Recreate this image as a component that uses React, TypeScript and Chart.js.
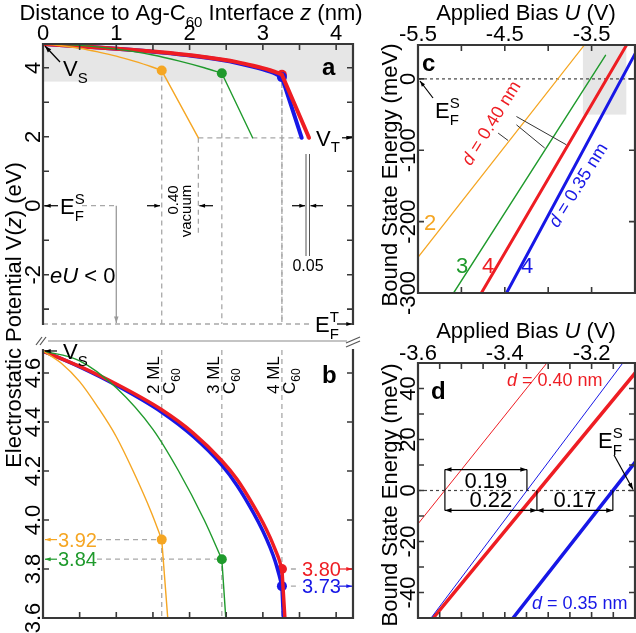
import { useEffect, useRef } from 'react';
import { Chart, registerables } from 'chart.js';

Chart.register(...registerables);

const W = 636;
const H = 633;
const FF = '"Liberation Sans", Arial, Helvetica, sans-serif';
const AXIS = '#383838';
const DASH = '#a8a8a8';
const BAND = '#e6e6e6';
const ORANGE = '#F5A623';
const GREEN = '#1F9A2C';
const RED = '#EE1D23';
const BLUE = '#1717E6';

// ---------- Panels a & b: electrostatic potential V(z) ----------
const z2ML = [0, 0.25, 0.5, 0.75, 1.0, 1.23, 1.48, 1.62];
const v2ML = [4.69, 4.64, 4.565, 4.46, 4.34, 4.2, 4.03, 3.92];
const z2Vac = [1.62, 2.12];
const v2Vac = [3.92, 1.97];
const z3ML = [0, 0.5, 1.0, 1.5, 1.85, 2.2, 2.44];
const v3ML = [4.69, 4.65, 4.54, 4.37, 4.2, 4.0, 3.84];
const z3Vac = [2.44, 2.86];
const v3Vac = [3.84, 1.97];
const z4ML = [0, 0.5, 1.0, 1.62, 2.05, 2.44, 2.65, 2.87, 3.0, 3.1, 3.17, 3.22, 3.26];
const v4ML040 = [4.69, 4.627, 4.555, 4.45, 4.355, 4.242, 4.165, 4.06, 3.99, 3.928, 3.878, 3.84, 3.8];
const v4ML035 = [4.69, 4.625, 4.55, 4.44, 4.341, 4.224, 4.14, 4.03, 3.955, 3.887, 3.83, 3.777, 3.73];
const z4Vac040 = [3.26, 3.63];
const v4Vac040 = [3.8, 1.97];
const z4Vac035 = [3.26, 3.53];
const v4Vac035 = [3.73, 1.97];
const dotZ = [1.62, 2.44, 3.26, 3.26];
const dotV = [3.92, 3.84, 3.8, 3.73];
const dotLabels = ['3.92', '3.84', '3.80', '3.73'];
const mlZ = [1.62, 2.44, 3.26];
const mlLabels = ['2 ML', '3 ML', '4 ML'];
const V_S = 4.69;
const V_T = 1.97;
const E_FT = -3.43;

const aXTicks = [0, 0.5, 1, 1.5, 2, 2.5, 3, 3.5, 4];
const aXLabels = [0, 1, 2, 3, 4];
const aYTicks = [-3, -2, -1, 0, 1, 2, 3, 4];
const aYLabels = [-2, 0, 2, 4];
const bYTicks = [3.6, 3.8, 4.0, 4.2, 4.4, 4.6];

// ---------- Panel c: bound state energy vs bias ----------
const cU2 = [-5.5, -3.567];
const cE2 = [-250, 50];
const cU3 = [-5.09, -3.34];
const cE3 = [-300, 33];
const cU4a = [-4.77, -3.085];
const cE4a = [-300, 50];
const cU4b = [-4.48, -3.0];
const cE4b = [-300, 35];
const cXTicks = [-5.5, -5.0, -4.5, -4.0, -3.5, -3.0];
const cXLabels = [-5.5, -4.5, -3.5];
const cYTicks = [-300, -200, -100, 0];

// ---------- Panel d: zoom near E_F ----------
const dUthinRed = [-3.6, -3.303];
const dEthinRed = [-13.1, 50];
const dUthinBlue = [-3.57, -3.128];
const dEthinBlue = [-50, 50];
const dUred = [-3.565, -3.1];
const dEred = [-50, 46];
const dUblue = [-3.381, -3.1];
const dEblue = [-50, 11];
const dCross = [-3.538, -3.349, -3.326, -3.151];
const dGaps = ['0.19', '0.22', '0.17'];
const dXTicks = [-3.6, -3.55, -3.5, -3.45, -3.4, -3.35, -3.3, -3.25, -3.2, -3.15, -3.1];
const dXLabels = [-3.6, -3.4, -3.2];
const dYTicks = [-40, -30, -20, -10, 0, 10, 20, 30, 40];
const dYLabels = [-40, -20, 0, 20, 40];

type Seg = { t: string; it?: boolean; b?: boolean; sub?: boolean; sup?: boolean; ss?: [string, string] };
type Align = 'left' | 'center' | 'right';
type Ctx = CanvasRenderingContext2D;
type F = (v: number) => number;

function fnt(size: number, it = false, b = false) {
  return `${it ? 'italic ' : ''}${b ? 'bold ' : ''}${size}px ${FF}`;
}

function rich(ctx: Ctx, segs: Seg[], x: number, y: number, size: number, color = '#000', align: Align = 'left', rot = 0) {
  const sm = Math.round(size * 0.7);
  ctx.save();
  ctx.translate(x, y);
  if (rot) ctx.rotate(rot);
  ctx.fillStyle = color;
  ctx.textAlign = 'left';
  ctx.textBaseline = 'alphabetic';
  const ws = segs.map((s) => {
    if (s.ss) {
      ctx.font = fnt(sm);
      return Math.max(ctx.measureText(s.ss[0]).width, ctx.measureText(s.ss[1]).width);
    }
    ctx.font = fnt(s.sub || s.sup ? sm : size, s.it, s.b);
    return ctx.measureText(s.t).width;
  });
  const tot = ws.reduce((a, b) => a + b, 0);
  let cx = align === 'left' ? 0 : align === 'center' ? -tot / 2 : -tot;
  segs.forEach((s, i) => {
    if (s.ss) {
      ctx.font = fnt(sm);
      ctx.fillText(s.ss[0], cx, -size * 0.45);
      ctx.fillText(s.ss[1], cx, size * 0.32);
    } else {
      ctx.font = fnt(s.sub || s.sup ? sm : size, s.it, s.b);
      ctx.fillText(s.t, cx, s.sub ? size * 0.3 : s.sup ? -size * 0.45 : 0);
    }
    cx += ws[i];
  });
  ctx.restore();
}

function txt(ctx: Ctx, s: string, x: number, y: number, size: number, color = '#000', align: Align = 'center', rot = 0, bold = false) {
  rich(ctx, [{ t: s, b: bold }], x, y, size, color, align, rot);
}

function path(ctx: Ctx, pts: number[][], color: string, lw = 1, dash: number[] = []) {
  ctx.save();
  ctx.strokeStyle = color;
  ctx.lineWidth = lw;
  ctx.setLineDash(dash);
  ctx.beginPath();
  pts.forEach((p, i) => (i ? ctx.lineTo(p[0], p[1]) : ctx.moveTo(p[0], p[1])));
  ctx.stroke();
  ctx.restore();
}

function dashed(ctx: Ctx, pts: number[][]) {
  path(ctx, pts, DASH, 1.3, [5, 4]);
}

function arrow(ctx: Ctx, x1: number, y1: number, x2: number, y2: number, color = '#000', lw = 1.2, head = 7, both = false) {
  ctx.save();
  ctx.strokeStyle = color;
  ctx.fillStyle = color;
  ctx.lineWidth = lw;
  ctx.setLineDash([]);
  ctx.beginPath();
  ctx.moveTo(x1, y1);
  ctx.lineTo(x2, y2);
  ctx.stroke();
  const hd = (xa: number, ya: number, xb: number, yb: number) => {
    const a = Math.atan2(yb - ya, xb - xa);
    ctx.beginPath();
    ctx.moveTo(xb, yb);
    ctx.lineTo(xb - head * Math.cos(a - 0.33), yb - head * Math.sin(a - 0.33));
    ctx.lineTo(xb - head * Math.cos(a + 0.33), yb - head * Math.sin(a + 0.33));
    ctx.closePath();
    ctx.fill();
  };
  hd(x1, y1, x2, y2);
  if (both) hd(x2, y2, x1, y1);
  ctx.restore();
}

function axes(ctx: Ctx, ca: any, X: F, Y: F, sides: string, xt: number[], yt: number[]) {
  const { left, right, top, bottom } = ca;
  ctx.save();
  ctx.strokeStyle = AXIS;
  ctx.setLineDash([]);
  ctx.lineWidth = 2.2;
  ctx.lineCap = 'square';
  ctx.beginPath();
  if (sides.includes('t')) { ctx.moveTo(left, top); ctx.lineTo(right, top); }
  if (sides.includes('b')) { ctx.moveTo(left, bottom); ctx.lineTo(right, bottom); }
  if (sides.includes('l')) { ctx.moveTo(left, top); ctx.lineTo(left, bottom); }
  if (sides.includes('r')) { ctx.moveTo(right, top); ctx.lineTo(right, bottom); }
  ctx.stroke();
  ctx.lineCap = 'butt';
  ctx.lineWidth = 1.6;
  const L = 6;
  ctx.beginPath();
  xt.forEach((v) => {
    const x = X(v);
    if (sides.includes('t')) { ctx.moveTo(x, top); ctx.lineTo(x, top + L); }
    if (sides.includes('b')) { ctx.moveTo(x, bottom); ctx.lineTo(x, bottom - L); }
  });
  yt.forEach((v) => {
    const y = Y(v);
    if (sides.includes('l')) { ctx.moveTo(left, y); ctx.lineTo(left + L, y); }
    if (sides.includes('r')) { ctx.moveTo(right, y); ctx.lineTo(right - L, y); }
  });
  ctx.stroke();
  ctx.restore();
}

const xy = (xs: number[], ys: number[]) => xs.map((x, i) => ({ x, y: ys[i] }));

function ds(xs: number[], ys: number[], color: string, width: number, smooth = false) {
  return {
    data: xy(xs, ys),
    borderColor: color,
    backgroundColor: color,
    borderWidth: width,
    pointRadius: 0,
    fill: false,
    clip: 0,
    tension: 0,
    cubicInterpolationMode: smooth ? 'monotone' : 'default',
    borderCapStyle: 'round',
    borderJoinStyle: 'round',
  };
}

const DOT_COLORS = [ORANGE, GREEN, RED, BLUE];
const dots = (r: number) => ({
  data: xy(dotZ, dotV),
  showLine: false,
  pointRadius: r,
  pointBackgroundColor: DOT_COLORS,
  pointBorderColor: DOT_COLORS,
  pointBorderWidth: 0,
  clip: false,
});

const profiles = (thin: number, thick: number) => [
  ds(z2ML, v2ML, ORANGE, thin, true),
  ds(z2Vac, v2Vac, ORANGE, thin),
  ds(z3ML, v3ML, GREEN, thin, true),
  ds(z3Vac, v3Vac, GREEN, thin),
  ds(z4ML, v4ML040, RED, thick, true),
  ds(z4Vac040, v4Vac040, RED, thick),
  ds(z4ML, v4ML035, BLUE, thick, true),
  ds(z4Vac035, v4Vac035, BLUE, thick),
];

const ROT = -Math.PI / 2;
const EF = (sup: string): Seg[] => [{ t: 'E' }, { t: '', ss: [sup, 'F'] }];

type Spec = {
  rect: [number, number, number, number];
  xr: [number, number];
  yr: [number, number];
  datasets: any[];
  under?: (ctx: Ctx, X: F, Y: F, ca: any) => void;
  over?: (ctx: Ctx, X: F, Y: F, ca: any) => void;
};

const panelA: Spec = {
  rect: [43, 44, 353, 324],
  xr: [0, 4.23],
  yr: [E_FT, V_S],
  datasets: [...profiles(1.4, 4), dots(5)],
  under: (ctx, X, Y, ca) => {
    ctx.fillStyle = BAND;
    ctx.fillRect(ca.left, Y(V_S), ca.right - ca.left, Y(3.6) - Y(V_S));
    dotZ.forEach((z, i) => dashed(ctx, [[X(z), Y(dotV[i]) + 6], [X(z), Y(E_FT)]]));
    dashed(ctx, [[X(z2Vac[1]), Y(V_T)], [X(3.6), Y(V_T)]]);
    dashed(ctx, [[X(z2Vac[1]), Y(V_T)], [X(z2Vac[1]), Y(-0.8)]]);
    dashed(ctx, [[82, Y(0)], [X(1.0), Y(0)]]);
    dashed(ctx, [[ca.left, Y(E_FT)], [313, Y(E_FT)]]);
  },
  over: (ctx, X, Y, ca) => {
    axes(ctx, ca, X, Y, 'tlr', aXTicks, aYTicks);
    aXLabels.forEach((v) => txt(ctx, String(v), X(v), 40, 22));
    aYLabels.forEach((v) => txt(ctx, String(v), 40, Y(v), 22, '#000', 'center', ROT));
    rich(ctx, [{ t: 'Distance to Ag-C' }, { t: '60', sub: true }, { t: ' Interface ' }, { t: 'z', it: true }, { t: ' (nm)' }], 191, 20, 22, '#000', 'center');
    rich(ctx, [{ t: 'Electrostatic Potential V(' }, { t: 'z', it: true }, { t: ') (eV)' }], 21, 315, 22, '#000', 'center', ROT);
    // V_S
    arrow(ctx, 60, 62, 45, 46);
    rich(ctx, [{ t: 'V' }, { t: 'S', sub: true }], 63, 76, 22);
    txt(ctx, 'a', 322, 75, 24, '#000', 'left', 0, true);
    // V_T
    rich(ctx, [{ t: 'V' }, { t: 'T', sub: true }], 316, Y(V_T) + 8, 22);
    arrow(ctx, 342, Y(V_T), 352, Y(V_T), '#000', 1.2, 6);
    // E_F^S and bias arrow
    arrow(ctx, 58, Y(0), 45, Y(0), '#000', 1.2, 6);
    rich(ctx, EF('S'), 60, Y(0) + 8, 22);
    arrow(ctx, X(1.0), Y(0), X(1.0), Y(E_FT) - 1, '#9a9a9a', 1.3, 7);
    rich(ctx, [{ t: 'eU', it: true }, { t: ' < 0' }], 50, Y(-2) + 8, 22);
    // vacuum width
    arrow(ctx, 147, Y(0), 160, Y(0), '#000', 1.2, 6);
    arrow(ctx, 213, Y(0), X(z2Vac[1]) + 1, Y(0), '#000', 1.2, 6);
    txt(ctx, '0.40', 178, 200, 15, '#000', 'center', ROT);
    txt(ctx, 'vacuum', 191, 211, 15, '#000', 'center', ROT);
    // 0.05 marker
    path(ctx, [[306, 154], [306, 256]], '#555', 1);
    path(ctx, [[309.5, 154], [309.5, 256]], '#555', 1);
    arrow(ctx, 292, Y(0), 305, Y(0), '#000', 1.2, 6);
    arrow(ctx, 323, Y(0), 310.5, Y(0), '#000', 1.2, 6);
    txt(ctx, '0.05', 308, 271, 16);
    // E_F^T
    rich(ctx, EF('T'), 315, Y(E_FT) + 8, 22);
    arrow(ctx, 337, Y(E_FT), 352, Y(E_FT), '#000', 1.2, 6);
  },
};

const panelB: Spec = {
  rect: [43, 350, 353, 618],
  xr: [0, 4.23],
  yr: [3.6, 4.694],
  datasets: [...profiles(1.4, 3.5), dots(5)],
  under: (ctx, X, Y, ca) => {
    mlZ.forEach((z) => dashed(ctx, [[X(z), ca.top], [X(z), ca.bottom]]));
    dashed(ctx, [[97, Y(dotV[0])], [X(dotZ[0]), Y(dotV[0])]]);
    dashed(ctx, [[97, Y(dotV[1])], [X(dotZ[1]), Y(dotV[1])]]);
    dashed(ctx, [[X(dotZ[2]), Y(dotV[2])], [300, Y(dotV[2])]]);
    dashed(ctx, [[X(dotZ[3]), Y(dotV[3])], [300, Y(dotV[3])]]);
  },
  over: (ctx, X, Y, ca) => {
    axes(ctx, ca, X, Y, 'blr', aXTicks, bYTicks);
    bYTicks.forEach((v) => txt(ctx, v.toFixed(1), 40, Y(v), 22, '#000', 'center', ROT));
    // broken-axis top
    path(ctx, [[48, 341], [347, 341]], '#8a8a8a', 1.2);
    path(ctx, [[36, 345], [42, 337]], '#555', 1.2);
    path(ctx, [[40, 345], [46, 337]], '#555', 1.2);
    path(ctx, [[346, 343], [360, 337]], '#555', 1.2);
    path(ctx, [[346, 347], [360, 341]], '#555', 1.2);
    // V_S
    arrow(ctx, 57, Y(V_S), 45, Y(V_S), '#000', 1.2, 6);
    rich(ctx, [{ t: 'V' }, { t: 'S', sub: true }], 63, Y(V_S) + 8, 22);
    txt(ctx, 'b', 322, 383, 24, '#000', 'left', 0, true);
    // ML labels
    mlZ.forEach((z, i) => {
      rich(ctx, [{ t: mlLabels[i] }], X(z) - 3, 394, 17, '#000', 'left', ROT);
      rich(ctx, [{ t: 'C' }, { t: '60', sub: true }], X(z) + 13, 394, 17, '#000', 'left', ROT);
    });
    // values
    [0, 1].forEach((i) => {
      const y = Y(dotV[i]);
      arrow(ctx, 57, y, 45, y, DOT_COLORS[i], 1.2, 6);
      txt(ctx, dotLabels[i], 58, y + 7, 20, DOT_COLORS[i], 'left');
    });
    [2, 3].forEach((i) => {
      const y = Y(dotV[i]);
      txt(ctx, dotLabels[i], 302, y + 7, 20, DOT_COLORS[i], 'left');
      arrow(ctx, 339, y, 352, y, DOT_COLORS[i], 1.2, 6);
    });
  },
};

const panelC: Spec = {
  rect: [418, 45, 635, 293],
  xr: [-5.5, -3.0],
  yr: [-300, 47.5],
  datasets: [
    ds(cU2, cE2, ORANGE, 1.2),
    ds(cU3, cE3, GREEN, 1.4),
    ds(cU4a, cE4a, RED, 3),
    ds(cU4b, cE4b, BLUE, 3),
  ],
  under: (ctx, X, Y, ca) => {
    ctx.fillStyle = BAND;
    const x0 = X(-3.6);
    const x1 = Math.min(X(-3.1), ca.right);
    const y0 = Math.max(Y(50), ca.top);
    ctx.fillRect(x0, y0, x1 - x0, Y(-50) - y0);
    path(ctx, [[ca.left, Y(0)], [ca.right, Y(0)]], '#444', 1.2, [3, 3]);
  },
  over: (ctx, X, Y, ca) => {
    axes(ctx, ca, X, Y, 'tblr', cXTicks, cYTicks);
    cXLabels.forEach((v) => txt(ctx, v.toFixed(1), X(v), 41, 22));
    cYTicks.forEach((v) => txt(ctx, String(v), 415, Y(v), 22, '#000', 'center', ROT));
    rich(ctx, [{ t: 'Applied Bias ' }, { t: 'U', it: true }, { t: ' (V)' }], 526, 20, 22, '#000', 'center');
    rich(ctx, [{ t: 'Bound State Energy (meV)' }], 397, 175, 22, '#000', 'center', ROT);
    txt(ctx, 'c', 422, 71, 24, '#000', 'left', 0, true);
    arrow(ctx, 433, 98, 420, 81, '#000', 1.2, 6);
    rich(ctx, EF('S'), 435, 118, 22);
    // d labels
    const a = (-58 * Math.PI) / 180;
    rich(ctx, [{ t: 'd', it: true }, { t: ' = 0.40 nm' }], 496, 126, 18, RED, 'center', a);
    rich(ctx, [{ t: 'd', it: true }, { t: ' = 0.35 nm' }], 583, 188, 18, BLUE, 'center', a);
    path(ctx, [[X(-4.366), Y(-52.7)], [X(-3.791), Y(-92.3)]], '#333', 1);
    path(ctx, [[X(-4.366), Y(-64.3)], [X(-4.04), Y(-96.9)]], '#333', 1);
    path(ctx, [[X(-4.577), Y(-75.9)], [X(-4.462), Y(-86.3)]], '#333', 1);
    txt(ctx, '2', 430, 230, 22, ORANGE);
    txt(ctx, '3', 462, 273, 22, GREEN);
    txt(ctx, '4', 488, 273, 22, RED);
    txt(ctx, '4', 527, 273, 22, BLUE);
  },
};

const panelD: Spec = {
  rect: [418, 363, 635, 618],
  xr: [-3.6, -3.1],
  yr: [-50, 50],
  datasets: [
    ds(dUthinRed, dEthinRed, RED, 1),
    ds(dUthinBlue, dEthinBlue, BLUE, 1),
    ds(dUred, dEred, RED, 3.5),
    ds(dUblue, dEblue, BLUE, 3.5),
  ],
  under: (ctx, X, Y, ca) => {
    path(ctx, [[ca.left, Y(0)], [ca.right, Y(0)]], '#444', 1.2, [3, 3]);
  },
  over: (ctx, X, Y, ca) => {
    axes(ctx, ca, X, Y, 'tblr', dXTicks, dYTicks);
    dXLabels.forEach((v) => txt(ctx, v.toFixed(1), X(v), 360, 22));
    dYLabels.forEach((v) => txt(ctx, String(v), 415, Y(v), 22, '#000', 'center', ROT));
    rich(ctx, [{ t: 'Applied Bias ' }, { t: 'U', it: true }, { t: ' (V)' }], 526, 338, 22, '#000', 'center');
    rich(ctx, [{ t: 'Bound State Energy (meV)' }], 397, 495, 22, '#000', 'center', ROT);
    txt(ctx, 'd', 431, 399, 24, '#000', 'left', 0, true);
    rich(ctx, [{ t: 'd', it: true }, { t: ' = 0.40 nm' }], 507, 386, 18, RED, 'left');
    rich(ctx, [{ t: 'd', it: true }, { t: ' = 0.35 nm' }], 532, 609, 18, BLUE, 'left');
    rich(ctx, EF('S'), 598, 448, 22);
    arrow(ctx, 614, 455, 633, Y(0) - 1, '#000', 1.2, 7);
    // dimension markers
    const [c0, c1, c2, c3] = dCross.map(X);
    const yu = Y(8.2);
    const yl = Y(-7.8);
    const y0 = Y(0);
    path(ctx, [[c0, yu], [c0, yl]], '#000', 1.2);
    path(ctx, [[c1, yu], [c1, y0]], '#000', 1.2);
    path(ctx, [[c2, y0], [c2, yl]], '#000', 1.2);
    path(ctx, [[c3, y0], [c3, yl]], '#000', 1.2);
    arrow(ctx, c0, yu, c1, yu, '#000', 1.2, 7, true);
    arrow(ctx, c0, yl, c2, yl, '#000', 1.2, 7, true);
    arrow(ctx, c2, yl, c3, yl, '#000', 1.2, 7, true);
    txt(ctx, dGaps[0], (c0 + c1) / 2, Y(1), 22);
    txt(ctx, dGaps[1], (c0 + c2) / 2, Y(-6.6), 22);
    txt(ctx, dGaps[2], (c2 + c3) / 2, Y(-6.6), 22);
  },
};

const SPECS: Spec[] = [panelA, panelB, panelC, panelD];

function makeChart(canvas: HTMLCanvasElement, spec: Spec) {
  const [l, t, r, b] = spec.rect;
  const get = (chart: any) => {
    const X = (v: number) => chart.scales.x.getPixelForValue(v);
    const Y = (v: number) => chart.scales.y.getPixelForValue(v);
    return { X, Y };
  };
  const plugin = {
    id: 'deco',
    beforeDatasetsDraw(chart: any) {
      const { X, Y } = get(chart);
      if (spec.under) spec.under(chart.ctx, X, Y, chart.chartArea);
    },
    afterDatasetsDraw(chart: any) {
      const { X, Y } = get(chart);
      if (spec.over) spec.over(chart.ctx, X, Y, chart.chartArea);
    },
  };
  return new Chart(canvas, {
    type: 'line',
    data: { datasets: spec.datasets },
    options: {
      responsive: false,
      maintainAspectRatio: false,
      animation: false,
      devicePixelRatio: 1,
      events: [],
      layout: { padding: { left: l, top: t, right: W - r, bottom: H - b } },
      plugins: { legend: { display: false }, tooltip: { enabled: false } },
      scales: {
        x: { type: 'linear', display: false, min: spec.xr[0], max: spec.xr[1] },
        y: { type: 'linear', display: false, min: spec.yr[0], max: spec.yr[1] },
      },
    },
    plugins: [plugin],
  } as any);
}

export default function App() {
  const refs = useRef<(HTMLCanvasElement | null)[]>([]);
  useEffect(() => {
    const charts = SPECS.map((s, i) => makeChart(refs.current[i] as HTMLCanvasElement, s));
    return () => charts.forEach((c) => c.destroy());
  }, []);
  return (
    <div style={{ position: 'absolute', left: 0, top: 0, width: W, height: H, background: '#fff' }}>
      {SPECS.map((_, i) => (
        <canvas
          key={i}
          ref={(el) => {
            refs.current[i] = el;
          }}
          width={W}
          height={H}
          style={{ position: 'absolute', left: 0, top: 0, width: W, height: H }}
        />
      ))}
    </div>
  );
}
